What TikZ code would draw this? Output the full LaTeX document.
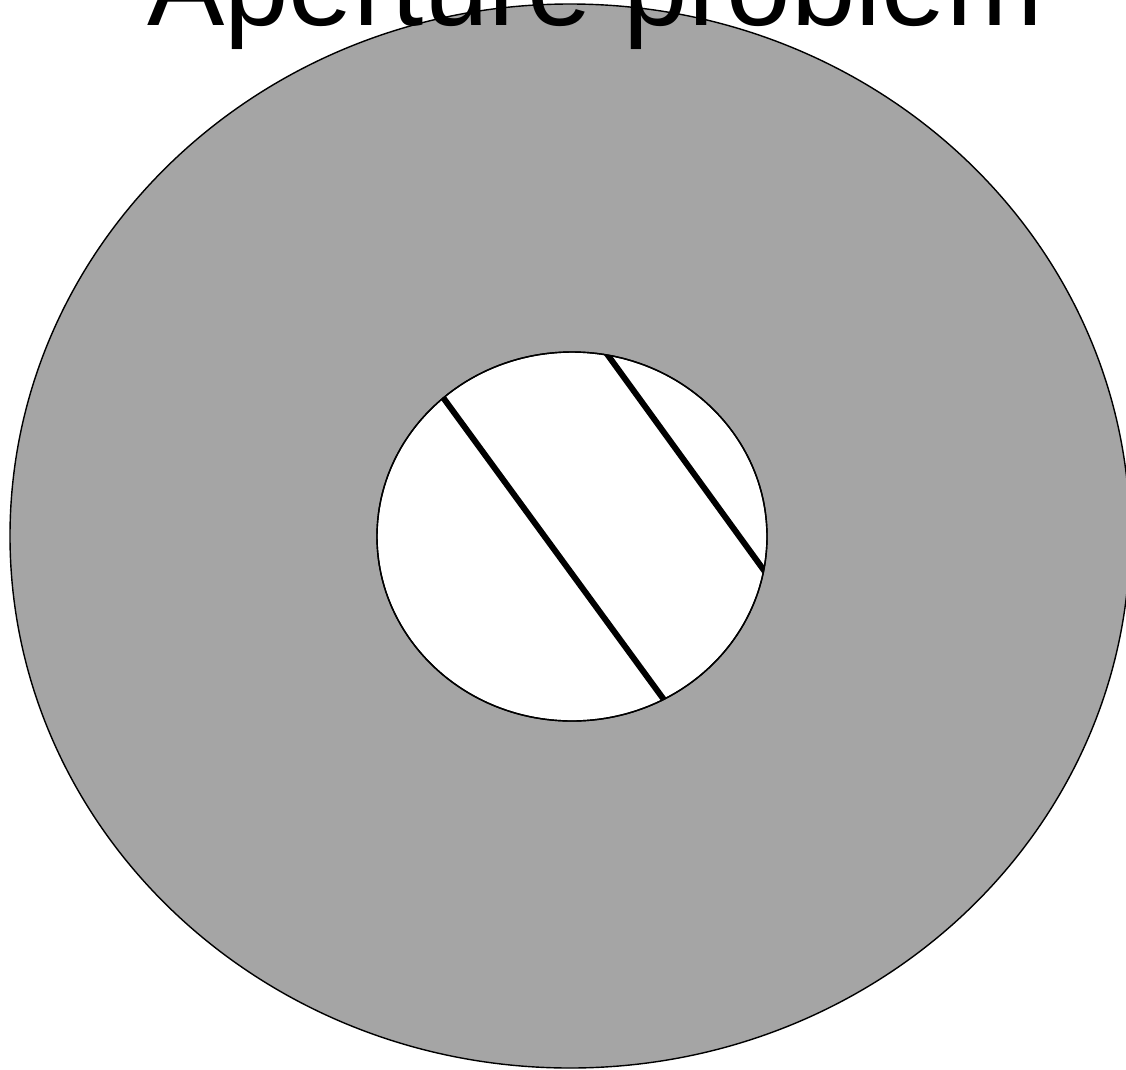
\documentclass[tikz,border=0pt]{standalone}
\usepackage{fontspec}
\setmainfont{Liberation Sans}
\usetikzlibrary{positioning}
\definecolor{stopgray}{RGB}{165, 165, 165}

\begin{document}
\begin{tikzpicture}[
	x=0.02cm, y=-0.02cm,
	% Styles for the aperture
	screen/.style={draw=black, line width=0.8pt, fill=stopgray},
	hole/.style={draw=black, line width=0.8pt, fill=white},
	% Style for the moving edges
	edgeline/.style={draw=black, line width=3.4pt},
	titletext/.style={font=\fontsize{66}{78}\selectfont, text=black, inner sep=0pt, anchor=base}
	]
	
	\useasboundingbox (0, 0) rectangle (1126, 1069);
	
	% ==========================================
	% OPAQUE SCREEN WITH APERTURE
	% ==========================================
	\draw[screen] (570, 536) ellipse [x radius=560, y radius=532];
	\draw[hole] (572, 536.5) ellipse [x radius=195, y radius=184.5];
	
	% Edges seen through the hole
	\begin{scope}
		\clip (572, 536.5) ellipse [x radius=195, y radius=184.5];
		\draw[edgeline] (412, 355) -- (700, 749);
		\draw[edgeline] (570, 303) -- (800, 620);
	\end{scope}
	\draw[line width=0.8pt] (572, 536.5) ellipse [x radius=195, y radius=184.5];
	
	% Title
	\node[titletext] (title) at (595, 25) {Aperture problem};
	
\end{tikzpicture}
\end{document}
